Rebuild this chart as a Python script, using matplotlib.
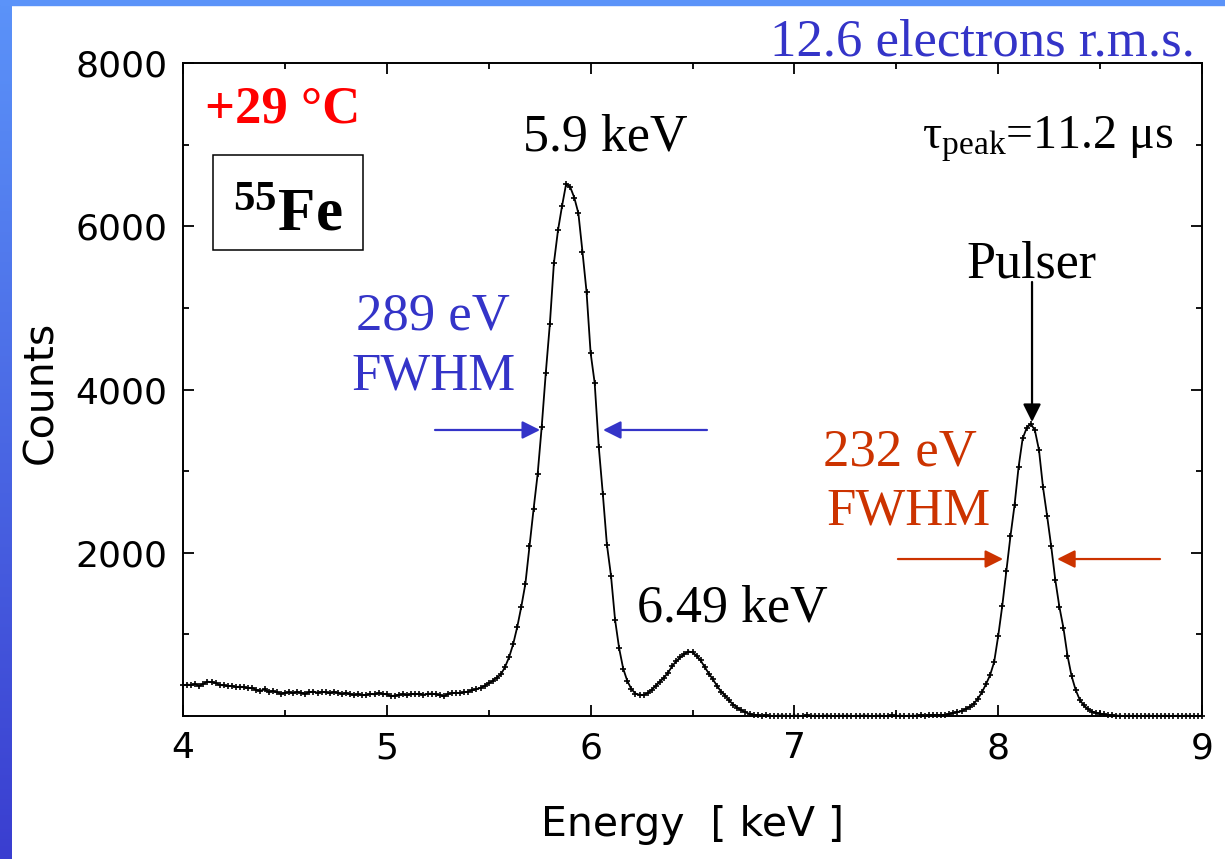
import numpy as np
import matplotlib

matplotlib.use("Agg")
import matplotlib.pyplot as plt
from matplotlib.patches import Rectangle
from matplotlib.colors import LinearSegmentedColormap
from matplotlib.ticker import MultipleLocator, FixedLocator

plt.rcParams["mathtext.fontset"] = "custom"
plt.rcParams["mathtext.rm"] = "Liberation Serif"
plt.rcParams["mathtext.it"] = "Liberation Serif:italic"
plt.rcParams["mathtext.bf"] = "Liberation Serif:bold"

# MCA channel calibration: first channel energy and width in keV
channel_start = 4.0
channel_width = 0.02

# 55Fe spectrum with pulser, counts per channel (4.00 .. 9.00 keV)
counts = [
    375, 385, 380, 390, 370, 395, 420, 415, 405, 380,
    375, 365, 370, 355, 360, 350, 340, 345, 320, 310,
    325, 300, 305, 290, 275, 285, 290, 280, 295, 285,
    275, 290, 300, 285, 295, 290, 280, 295, 285, 270,
    280, 265, 260, 265, 255, 260, 270, 265, 280, 270,
    265, 245, 250, 260, 265, 255, 270, 265, 275, 260,
    270, 275, 265, 255, 240, 270, 280, 285, 280, 290,
    300, 315, 330, 345, 370, 400, 430, 470, 510, 600,
    720, 880, 1090, 1340, 1620, 2080, 2530, 2960, 3540, 4200,
    4800, 5550, 5950, 6250, 6520, 6480, 6350, 6160, 5690, 5200,
    4450, 4080, 3300, 2720, 2100, 1720, 1180, 830, 580, 430,
    330, 275, 260, 258, 280, 320, 370, 420, 470, 530,
    610, 670, 720, 760, 790, 780, 740, 680, 600, 520,
    450, 370, 300, 250, 190, 140, 100, 70, 45, 25,
    15, 10, 5, 8, 3, 0, 4, 6, 2, 0,
    5, 3, 0, 7, 2, 4, 0, 3, 6, 1,
    0, 4, 2, 5, 0, 3, 1, 6, 2, 0,
    3, 5, 0, 2, 8, 1, 4, 0, 3, 2,
    5, 8, 6, 10, 9, 12, 12, 15, 25, 38,
    48, 60, 85, 110, 150, 210, 290, 390, 500, 660,
    980, 1350, 1780, 2200, 2580, 3050, 3400, 3530, 3580, 3500,
    3260, 2800, 2450, 2080, 1670, 1340, 1080, 740, 490, 320,
    200, 130, 85, 55, 40, 30, 20, 12, 8, 5,
    2, 0, 4, 1, 3, 0, 2, 5, 0, 3,
    1, 4, 0, 2, 3, 0, 5, 1, 2, 0,
    3,
]
energy = channel_start + channel_width * np.arange(len(counts))

x_ticks = [4, 5, 6, 7, 8, 9]
y_ticks = [2000, 4000, 6000, 8000]

# FWHM markers (keV) and arrow height (counts)
fe_fwhm_left, fe_fwhm_right, fe_arrow_y = 5.752, 6.061, 3504
pulser_fwhm_left, pulser_fwhm_right, pulser_arrow_y = 8.024, 8.289, 1923
pulser_peak_e, pulser_peak_counts = 8.166, 3602

blue = "#3434c8"
orange = "#cc3300"

fig = plt.figure(figsize=(12.25, 8.59), dpi=100, facecolor="white")

# slide frame: gradient strip on the left, plain band on top
strip = fig.add_axes([0, 0, 12 / 1225, 1])
grad = LinearSegmentedColormap.from_list("frame", ["#3a3ed0", "#5b93f9"])
strip.imshow(np.linspace(0, 1, 256).reshape(-1, 1), aspect="auto", cmap=grad,
             origin="lower", extent=[0, 1, 0, 1])
strip.axis("off")
fig.patches.append(Rectangle((0, 1 - 5 / 859), 1, 5 / 859, transform=fig.transFigure,
                             color="#5b93f9", zorder=5))

ax = fig.add_axes([183 / 1225, 143 / 859, 1019 / 1225, 653 / 859])
ax.plot(energy, counts, color="black", lw=1.3, marker="+", ms=5, mew=1.2,
        clip_on=False, zorder=3)

ax.set_xlim(4, 9)
ax.set_ylim(0, 8000)
ax.xaxis.set_major_locator(FixedLocator(x_ticks))
ax.xaxis.set_minor_locator(MultipleLocator(0.5))
ax.yaxis.set_major_locator(FixedLocator(y_ticks))
ax.yaxis.set_minor_locator(MultipleLocator(1000))
ax.tick_params(which="both", direction="in", top=True, right=True, width=1.3,
               labelsize=26, pad=11)
ax.tick_params(which="major", length=8)
ax.tick_params(which="minor", length=4.3)
for s in ax.spines.values():
    s.set_linewidth(1.4)

ax.set_xlabel("Energy  [ keV ]", fontsize=29.5)
ax.xaxis.set_label_coords(0.5, -0.136)
ax.set_ylabel("Counts", fontsize=29.5)
ax.yaxis.set_label_coords(-0.119, 0.496)

serif = "Liberation Serif"
fig.text(1195 / 1225, 1 - 55 / 859, "12.6 electrons r.m.s.", color=blue,
         fontsize=38, family=serif, ha="right", va="baseline")
ax.text(4.108, 7277, "+29 °C", color="red", fontsize=38, family=serif,
        fontweight="bold", ha="left", va="baseline")
ax.text(6.071, 6934, "5.9 keV", fontsize=37.5, family=serif, ha="center", va="baseline")
ax.text(7.626, 6959, r"$\mathrm{\tau_{peak}}$=11.2 μs", fontsize=34.5, family=serif,
        ha="left", va="baseline")
ax.text(8.161, 5378, "Pulser", fontsize=37.5, family=serif, ha="center", va="baseline")
ax.text(6.694, 1152, "6.49 keV", fontsize=37.5, family=serif, ha="center", va="baseline")
ax.text(5.227, 4729, "289 eV", color=blue, fontsize=38, family=serif, ha="center",
        va="baseline")
ax.text(5.227, 4006, "FWHM", color=blue, fontsize=38, family=serif, ha="center",
        va="baseline")
ax.text(7.518, 3075, "232 eV", color=orange, fontsize=38, family=serif, ha="center",
        va="baseline")
ax.text(7.562, 2340, "FWHM", color=orange, fontsize=38, family=serif, ha="center",
        va="baseline")

# isotope label in a box
ax.add_patch(Rectangle((0.0294, 0.7136), 0.1472, 0.1455, transform=ax.transAxes,
                       fill=False, lw=1.1, edgecolor="black"))
ax.text(4.515, 5954, r"$\mathbf{^{55}Fe}$", fontsize=44, ha="center", va="baseline")

# FWHM and pulser arrows
arrow_kw = dict(arrowstyle="-|>", lw=1.6, mutation_scale=27, shrinkA=0, shrinkB=0)
ax.annotate("", xy=(fe_fwhm_left, fe_arrow_y), xytext=(5.2365, fe_arrow_y),
            arrowprops=dict(color=blue, **arrow_kw))
ax.annotate("", xy=(fe_fwhm_right, fe_arrow_y), xytext=(6.571, fe_arrow_y),
            arrowprops=dict(color=blue, **arrow_kw))
ax.annotate("", xy=(pulser_fwhm_left, pulser_arrow_y), xytext=(7.508, pulser_arrow_y),
            arrowprops=dict(color=orange, **arrow_kw))
ax.annotate("", xy=(pulser_fwhm_right, pulser_arrow_y), xytext=(8.794, pulser_arrow_y),
            arrowprops=dict(color=orange, **arrow_kw))
ax.annotate("", xy=(pulser_peak_e, pulser_peak_counts), xytext=(pulser_peak_e, 5317),
            arrowprops=dict(color="black", **arrow_kw))

fig.savefig("out.png", dpi=100, facecolor="white")
